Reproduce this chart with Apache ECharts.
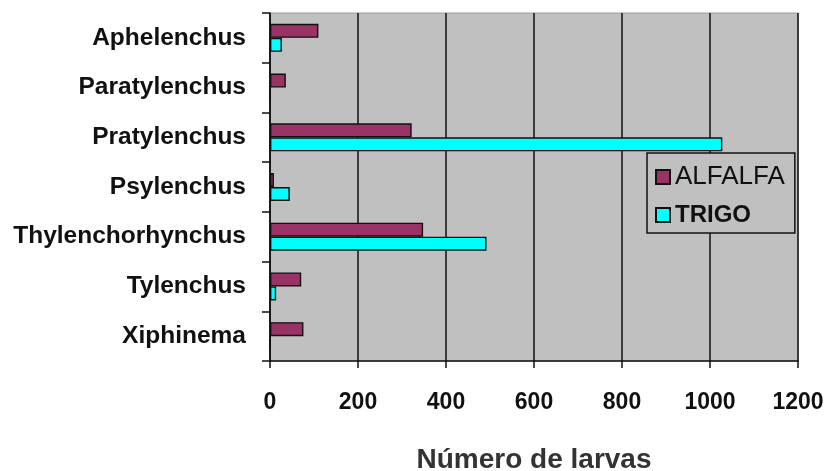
<!DOCTYPE html>
<html>
<head>
<meta charset="utf-8">
<script src="https://cdn.jsdelivr.net/npm/echarts@6/dist/echarts.min.js"></script>
<style>html,body{margin:0;padding:0;background:#fff}#c{width:825px;height:471px}</style>
</head>
<body>
<div id="c"></div>
<script>
const categories = ['Aphelenchus','Paratylenchus','Pratylenchus','Psylenchus','Thylenchorhynchus','Tylenchus','Xiphinema'];
const alfalfa = [110, 36, 322, 9, 348, 71, 76];
const trigo = [27, 0, 1028, 45, 492, 14, 0];
const xTicks = [0, 200, 400, 600, 800, 1000, 1200];

const chart = echarts.init(document.getElementById('c'));
const FONT = '"Liberation Sans", Arial, sans-serif';
chart.setOption({
  animation: false,
  grid: {left: 270, right: 27, top: 13, bottom: 110, show: true, backgroundColor: '#C0C0C0', borderColor: '#9a9a9a', borderWidth: 1,
         containLabel: false, outerBoundsMode: 'none'},
  legend: {
    orient: 'vertical', left: 647, top: 153,
    backgroundColor: '#C0C0C0', borderColor: '#111', borderWidth: 1.5,
    padding: [11, 10, 6, 8], itemGap: 13, itemWidth: 14, itemHeight: 14,
    icon: 'rect',
    data: ['ALFALFA', 'TRIGO'],
    formatter: n => n === 'TRIGO' ? '{b|' + n + '}' : '{a|' + n + '}',
    textStyle: {
      fontFamily: FONT, color: '#111', padding: [0, 0, 0, 0],
      rich: {
        a: {fontFamily: FONT, fontSize: 26, color: '#111', lineHeight: 27},
        b: {fontFamily: FONT, fontSize: 24, fontWeight: 'bold', color: '#111', lineHeight: 27}
      }
    }
  },
  xAxis: {
    type: 'value', min: 0, max: 1200, interval: 200,
    name: 'Número de larvas', nameLocation: 'middle', nameGap: 85,
    nameTextStyle: {fontFamily: FONT, fontSize: 28, fontWeight: 'bold', color: '#333'},
    axisLine: {show: true, lineStyle: {color: '#111', width: 1.5}},
    axisTick: {show: true, length: 7, lineStyle: {color: '#111', width: 1.5}},
    axisLabel: {margin: 30, fontFamily: FONT, fontSize: 23, fontWeight: 'bold', color: '#111',
      formatter: v => xTicks.includes(v) ? String(v) : ''},
    splitLine: {show: true, lineStyle: {color: '#111', width: 1.5}}
  },
  yAxis: {
    type: 'category', data: categories, inverse: true,
    axisLine: {show: true, lineStyle: {color: '#111', width: 1.5}},
    axisTick: {show: true, length: 8, lineStyle: {color: '#111', width: 1.5}},
    axisLabel: {margin: 24, fontFamily: FONT, fontSize: 24.5, fontWeight: 'bold', color: '#111', padding: [6, 0, 0, 0]},
    splitLine: {show: false}
  },
  series: [
    {name: 'ALFALFA', type: 'bar', data: alfalfa, barWidth: 14, barGap: '0%',
     itemStyle: {color: '#993366', borderColor: '#111', borderWidth: 1.4}},
    {name: 'TRIGO', type: 'bar', data: trigo, barWidth: 14, barGap: '0%',
     itemStyle: {color: '#00FFFF', borderColor: '#111', borderWidth: 1.4}}
  ]
});
</script>
</body>
</html>
